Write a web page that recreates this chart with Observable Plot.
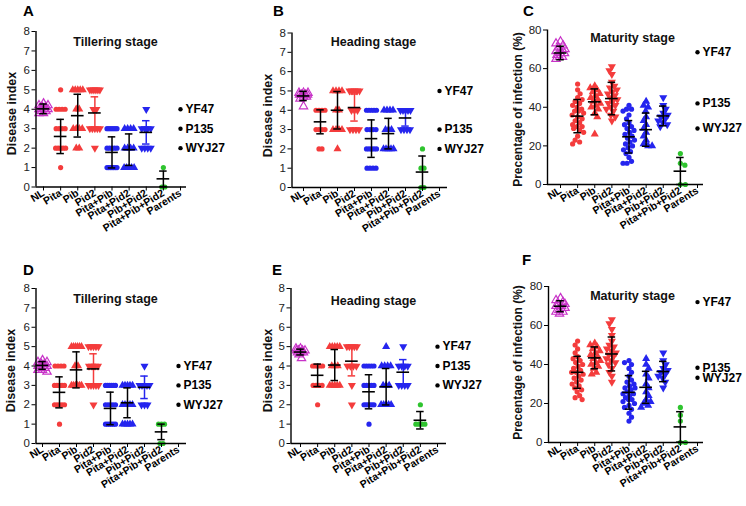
<!DOCTYPE html>
<html><head><meta charset="utf-8">
<script src="https://cdn.jsdelivr.net/npm/d3@7"></script>
<script src="https://cdn.jsdelivr.net/npm/@observablehq/plot@0.6"></script>
<style>
body{margin:0;background:#fff}
#fig{position:relative;width:746px;height:506px;font-family:"Liberation Sans",Arial,sans-serif;overflow:hidden}
.panel{position:absolute}
.letter{position:absolute;font-weight:bold;font-size:15px;line-height:1;color:#000}
</style></head><body><div id="fig"></div>
<script>
// ---------- categories & labels ----------
const categories = ["NL","Pita","Pib","Pid2","Pita+Pib","Pita+Pid2","Pib+Pid2","Pita+Pib+Pid2","Parents"];
const parentNames = ["YF47","P135","WYJ27"];
const indexTicks = [0,1,2,3,4,5,6,7,8];
const percentTicks = [0,20,40,60,80];

// ---------- A: Tillering stage (top) ----------
const tillerTop = [
  [4.3,4.2,4.2,4.1,4.1,4.0,4.0,4.0,3.9,3.9,3.8,3.8],
  [5,4,4,4,4,3,3,3,3,2,2,2,2,2,1],
  [5,5,5,5,5,4,4,3,3,3,3,2,2],
  [5,5,5,5,5,5,4,4,3,3,3,3,3,2],
  [3,3,3,3,3,3,2,2,2,2,2,1,1,1,1,1,1,1],
  [3,3,3,3,2,2,2,2,1,1,1,1,1],
  [4,3,3,3,3,2,2,2,2],
  [1,0,0]
];
const tillerTopMean = [4.02,2.6,3.67,3.81,1.78,1.92,2.81,0.42];
const tillerTopSD   = [0.25,0.88,1.1,0.83,0.8,0.81,0.6,0.4];
const tillerTopParents = [4,3,2];

// ---------- B: Heading stage (top) ----------
const headTop = [
  [4.9,4.9,4.9,4.8,4.8,4.8,4.8,4.7,4.7,4.6,4.2],
  [4,4,4,4,3,3,3,3,2,2],
  [5,5,5,5,4,4,3,3,3,3,2],
  [5,5,5,5,5,4,4,4,3,3,3,3],
  [4,4,4,4,4,3,3,3,3,2,2,2,2,2,1,1,1,1],
  [4,4,4,4,3,3,3,2,2,2,2,2],
  [4,4,4,4,4,3,3,3,3],
  [2,1,1,0,0]
];
const headTopMean = [4.74,3.4,4.0,4.14,2.53,2.79,3.6,0.8];
const headTopSD   = [0.24,0.62,0.97,0.7,0.97,0.79,0.42,0.83];
const headTopParents = [5,3,2];

// ---------- C: Maturity stage (top) ----------
const matTop = [
  [74,73,72,71,70,69,68,68,67,66,65,66],
  [52,49,47,45,44,43,42,41,40,39,38,38,37,36,35,34,33,32,31,30,30,29,28,27,25,23,22,21],
  [51,50,49,48,47,46,45,44,43,42,41,40,39,37,35,26],
  [61,59,57,53,51,50,49,48,47,46,45,44,43,42,41,40,39,38,36,35,33],
  [41,39,39,38,36,34,32,31,30,29,28,27,26,25,24,23,22,21,20,19,18,17,16,14,12,11,11],
  [43,41,40,38,35,33,31,29,27,25,23,21,20,20],
  [45,41,39,37,36,35,34,33,32,31,30],
  [16,11,10,0,0]
];
const matTopMean = [68.1,35.4,42.8,44.5,24.7,28.4,35.5,6.9];
const matTopSD   = [3.5,8.6,6.7,8.4,8.4,8.6,5.1,7.1];
const matTopParents = [68.5,42,29];

// ---------- D: Tillering stage (bottom) ----------
const tillerBot = [
  [4.3,4.2,4.2,4.1,4.1,4.0,4.0,4.0,3.9,3.9,3.8,3.8,3.7],
  [4,4,4,4,3,3,3,3,3,2,2,2,2,2,1],
  [5,5,5,5,5,5,4,4,3,3,3,3,3,3],
  [5,5,5,5,5,4,4,4,4,3,3,3,3,3,2],
  [3,3,3,3,3,3,2,2,2,2,2,1,1,1,1,1,1],
  [3,3,3,3,3,2,2,2,2,2,1,1,1,1,1],
  [4,3,3,3,3,3,2,2,2],
  [1,1,1,0,0]
];
const tillerBotMean = [4.03,2.64,3.8,3.85,1.81,2.1,2.9,0.6];
const tillerBotSD   = [0.2,0.8,0.93,0.78,0.84,0.77,0.58,0.4];
const tillerBotParents = [4,3,2];

// ---------- E: Heading stage (bottom) ----------
const headBot = [
  [4.9,4.9,4.8,4.8,4.8,4.8,4.7,4.7,4.7,4.6,4.4],
  [4,4,4,4,4,3,3,3,3,2],
  [5,5,5,5,5,4,4,4,3,3,3,3,3],
  [5,5,5,5,5,4,4,4,4,3,2],
  [4,4,4,4,4,3,3,3,3,3,2,2,2,2,2,2,1],
  [5,4,4,4,4,3,3,3,2,2,2,2,2],
  [5,4,4,4,4,3,3,3,3],
  [2,1,1,1,1]
];
const headBotMean = [4.72,3.52,4.05,4.25,2.67,2.93,3.68,1.2];
const headBotSD   = [0.15,0.58,0.8,0.76,0.88,0.94,0.65,0.45];
const headBotParents = [5,4,3];

// ---------- F: Maturity stage (bottom) ----------
const matBot = [
  [74,73,72,71,70,70,69,68,67,67,66,71],
  [52,50,48,46,44,43,42,41,40,39,38,37,36,36,35,34,33,32,31,30,29,28,27,26,24,23,22],
  [51,50,49,48,47,46,45,44,43,42,41,40,39,38,36,35],
  [63,61,58,55,52,50,49,48,47,46,45,44,43,42,41,40,38,36,34,31],
  [42,41,40,38,36,34,32,31,30,29,28,28,27,26,25,25,24,23,22,22,21,20,19,18,17,15,13,11],
  [43,40,38,35,33,30,28,26,24,22,21,20,19,18],
  [46,42,40,38,37,36,35,34,33,31,28],
  [18,14,11,0,0]
];
const matBotMean = [69.9,36.0,43.4,45.4,25.7,28.3,36.4,8.0];
const matBotSD   = [2.8,8.2,5.6,8.7,8.6,8.2,5.2,7.8];
const matBotParents = [72,38.3,33.2];

// ---------- styles ----------
const MAG = "#c833c8", RED = "#f43c3c", BLUE = "#2525ee", GREEN = "#2fc42f";
const triDown = { draw(ctx, size) { const y = -Math.sqrt(size / (Math.sqrt(3) * 3)); ctx.moveTo(0, -2*y); ctx.lineTo(-Math.sqrt(3)*y, y); ctx.lineTo(Math.sqrt(3)*y, y); ctx.closePath(); } };
const catStyle = [
  {symbol:"triangle", fill:"none", stroke:MAG, r:3.1},
  {symbol:"circle", fill:RED, r:2.6},
  {symbol:"triangle", fill:RED, r:3},
  {symbol:triDown, fill:RED, r:3},
  {symbol:"circle", fill:BLUE, r:2.6},
  {symbol:"triangle", fill:BLUE, r:3},
  {symbol:triDown, fill:BLUE, r:3},
  {symbol:"circle", fill:GREEN, r:2.6}
];
const errIndex = ["black","black","black",RED,"black","black",BLUE,"black"];
const errPct = ["black","black","black","black","black","black","black","black"];

const panels = [
  {letter:"A", left:0, top:0, w:250, h:250, ax:35.5, nl:43, par:180, right:186, yTop:31, y0:186.5, ymax:8, ticks:indexTicks, kind:"index",
   title:"Tillering stage", tx:115, ty:41, ylabel:"Disease index", lx:11, ly:113, lfs:12.5, letX:23, letY:3,
   values:tillerTop, means:tillerTopMean, sds:tillerTopSD, parents:tillerTopParents, err:errIndex},
  {letter:"B", left:250, top:0, w:250, h:250, ax:41.5, nl:53, par:189, right:197, yTop:32.5, y0:187, ymax:8, ticks:indexTicks, kind:"index",
   title:"Heading stage", tx:123, ty:41, ylabel:"Disease index", lx:17, ly:115, lfs:12.5, letX:23, letY:3,
   values:headTop, means:headTopMean, sds:headTopSD, parents:headTopParents, err:errIndex},
  {letter:"C", left:500, top:0, w:246, h:250, ax:47, nl:60, par:197, right:203, yTop:29.5, y0:184, ymax:80, ticks:percentTicks, kind:"pct",
   title:"Maturity stage", tx:132, ty:37, ylabel:"Precentage of infection (%)", lx:18, ly:109, lfs:12, letX:23, letY:3,
   values:matTop, means:matTopMean, sds:matTopSD, parents:matTopParents, err:errPct},
  {letter:"D", left:0, top:250, w:250, h:256, ax:35.5, nl:42, par:178, right:186, yTop:38, y0:193, ymax:8, ticks:indexTicks, kind:"index",
   title:"Tillering stage", tx:115, ty:48, ylabel:"Disease index", lx:10, ly:120, lfs:12.5, letX:23, letY:12,
   values:tillerBot, means:tillerBotMean, sds:tillerBotSD, parents:tillerBotParents, err:errIndex},
  {letter:"E", left:250, top:250, w:250, h:256, ax:40.5, nl:50, par:187, right:196, yTop:38, y0:193, ymax:8, ticks:indexTicks, kind:"index",
   title:"Heading stage", tx:123, ty:50, ylabel:"Disease index", lx:17, ly:120, lfs:12.5, letX:22, letY:12,
   values:headBot, means:headBotMean, sds:headBotSD, parents:headBotParents, err:errIndex},
  {letter:"F", left:500, top:250, w:246, h:256, ax:48, nl:60, par:197, right:203, yTop:36, y0:192, ymax:80, ticks:percentTicks, kind:"pct",
   title:"Maturity stage", tx:132, ty:45, ylabel:"Precentage of infection (%)", lx:18, ly:112, lfs:12, letX:22, letY:2,
   values:matBot, means:matBotMean, sds:matBotSD, parents:matBotParents, err:errPct}
];

// ---------- horizontal spreading of overlapping points ----------
function gridOffsets(vals) {
  const out = new Array(vals.length).fill(0);
  const g = d3.group(d3.range(vals.length), i => vals[i]);
  for (const ids of g.values()) {
    const k = ids.length;
    const s = k > 1 ? Math.min(3, 10 / (k - 1)) : 0;
    ids.forEach((i, j) => out[i] = (j - (k - 1) / 2) * s);
  }
  return out;
}
function swarmOffsets(vals, pxY, maxW) {
  const dmin = 4.6;
  const order = d3.range(vals.length).sort((a, b) => vals[b] - vals[a]);
  const placed = [], out = new Array(vals.length).fill(0);
  let flip = 1;
  for (const i of order) {
    const y = vals[i] * pxY;
    const cands = [0];
    for (let s = 0.5; s <= maxW; s += 0.5) cands.push(s * flip, -s * flip);
    flip = -flip;
    let best = 0, bestD = -1;
    for (const c of cands) {
      let md = Infinity;
      for (const q of placed) { const d = Math.hypot(q.x - c, q.y - y); if (d < md) md = d; }
      if (md >= dmin) { best = c; break; }
      if (md > bestD) { bestD = md; best = c; }
    }
    placed.push({x: best, y}); out[i] = best;
  }
  return out;
}

const fig = document.getElementById("fig");
for (const p of panels) {
  const pc = (p.par - p.nl) / 8;
  const xmin = (p.ax - p.nl) / pc, xmax = (p.right - p.nl) / pc;
  const pxY = (p.y0 - p.yTop) / p.ymax;
  const marks = [];
  p.values.forEach((vals, ci) => {
    const offs = (p.kind === "index" && ci > 0) ? gridOffsets(vals) : swarmOffsets(vals, pxY, ci === 0 ? 4.5 : 6);
    const pts = vals.map((v, j) => ({v, xo: ci + offs[j] / pc}));
    const st = catStyle[ci];
    marks.push(Plot.dot(pts, {x: "xo", y: "v", symbol: st.symbol, r: st.r, fill: st.fill, stroke: st.stroke || "none", strokeWidth: 1.2}));
  });
  const stats = p.means.map((m, ci) => ({ci, m, lo: Math.max(0, m - p.sds[ci]), hi: m + p.sds[ci]}));
  stats.forEach(s => {
    const col = p.err[s.ci];
    marks.push(Plot.ruleX([s], {x: d => d.ci, y1: "lo", y2: "hi", stroke: col, strokeWidth: 1.5}));
    marks.push(Plot.ruleY([s, s], {x1: d => d.ci - 0.22, x2: d => d.ci + 0.22, y: (d, i) => i ? d.hi : d.lo, stroke: col, strokeWidth: 1.5}));
  });
  marks.push(Plot.ruleY(stats, {x1: d => d.ci - 0.37, x2: d => d.ci + 0.37, y: "m", stroke: "black", strokeWidth: 1.6}));
  const par = p.parents.map((v, i) => ({v, name: parentNames[i]}));
  marks.push(Plot.dot(par, {x: () => 8, y: "v", r: 2.2, fill: "black"}));
  marks.push(Plot.text(par, {x: () => 8, y: "v", text: "name", dx: 5, textAnchor: "start", fontSize: 12, fontWeight: "bold", fill: "black"}));
  // axes
  marks.push(Plot.axisY({ticks: p.ticks, tickSize: 4, tickPadding: 2, fontSize: 11.5, label: null, fill: "#222"}));
  marks.push(Plot.axisX({ticks: d3.range(9), tickFormat: i => categories[i], tickRotate: -32, tickSize: 4, tickPadding: 1, fontSize: 10.5, fontWeight: "bold", label: null}));
  marks.push(Plot.ruleX([xmin], {stroke: "black", strokeWidth: 1.4}));
  marks.push(Plot.ruleY([0], {stroke: "black", strokeWidth: 1.4}));
  marks.push(Plot.text([p.title], {text: d => d, frameAnchor: "top-left", textAnchor: "middle", lineAnchor: "middle", dx: p.tx - p.ax, dy: p.ty - p.yTop, fontSize: 12.5, fontWeight: "bold", fill: "#111"}));
  marks.push(Plot.text([p.ylabel], {text: d => d, frameAnchor: "top-left", textAnchor: "middle", lineAnchor: "middle", dx: p.lx - p.ax, dy: p.ly - p.yTop, rotate: -90, fontSize: p.lfs, fontWeight: "bold", fill: "#111"}));

  const chart = Plot.plot({
    width: p.w, height: p.h,
    marginLeft: p.ax, marginRight: p.w - p.right, marginTop: p.yTop, marginBottom: p.h - p.y0,
    x: {domain: [xmin, xmax]},
    y: {domain: [0, p.ymax]},
    style: {fontFamily: "'Liberation Sans', Arial, sans-serif", color: "black", background: "transparent", overflow: "visible"},
    marks
  });
  const wrap = document.createElement("div");
  wrap.className = "panel";
  wrap.style.left = p.left + "px"; wrap.style.top = p.top + "px";
  wrap.appendChild(chart);
  const L = document.createElement("div");
  L.className = "letter"; L.textContent = p.letter;
  L.style.left = (p.left + p.letX) + "px"; L.style.top = (p.top + p.letY) + "px";
  fig.appendChild(wrap);
  fig.appendChild(L);
}
</script>
<style>
g[aria-label="x-axis tick label"] text{font-weight:bold}
</style>
</body></html>
